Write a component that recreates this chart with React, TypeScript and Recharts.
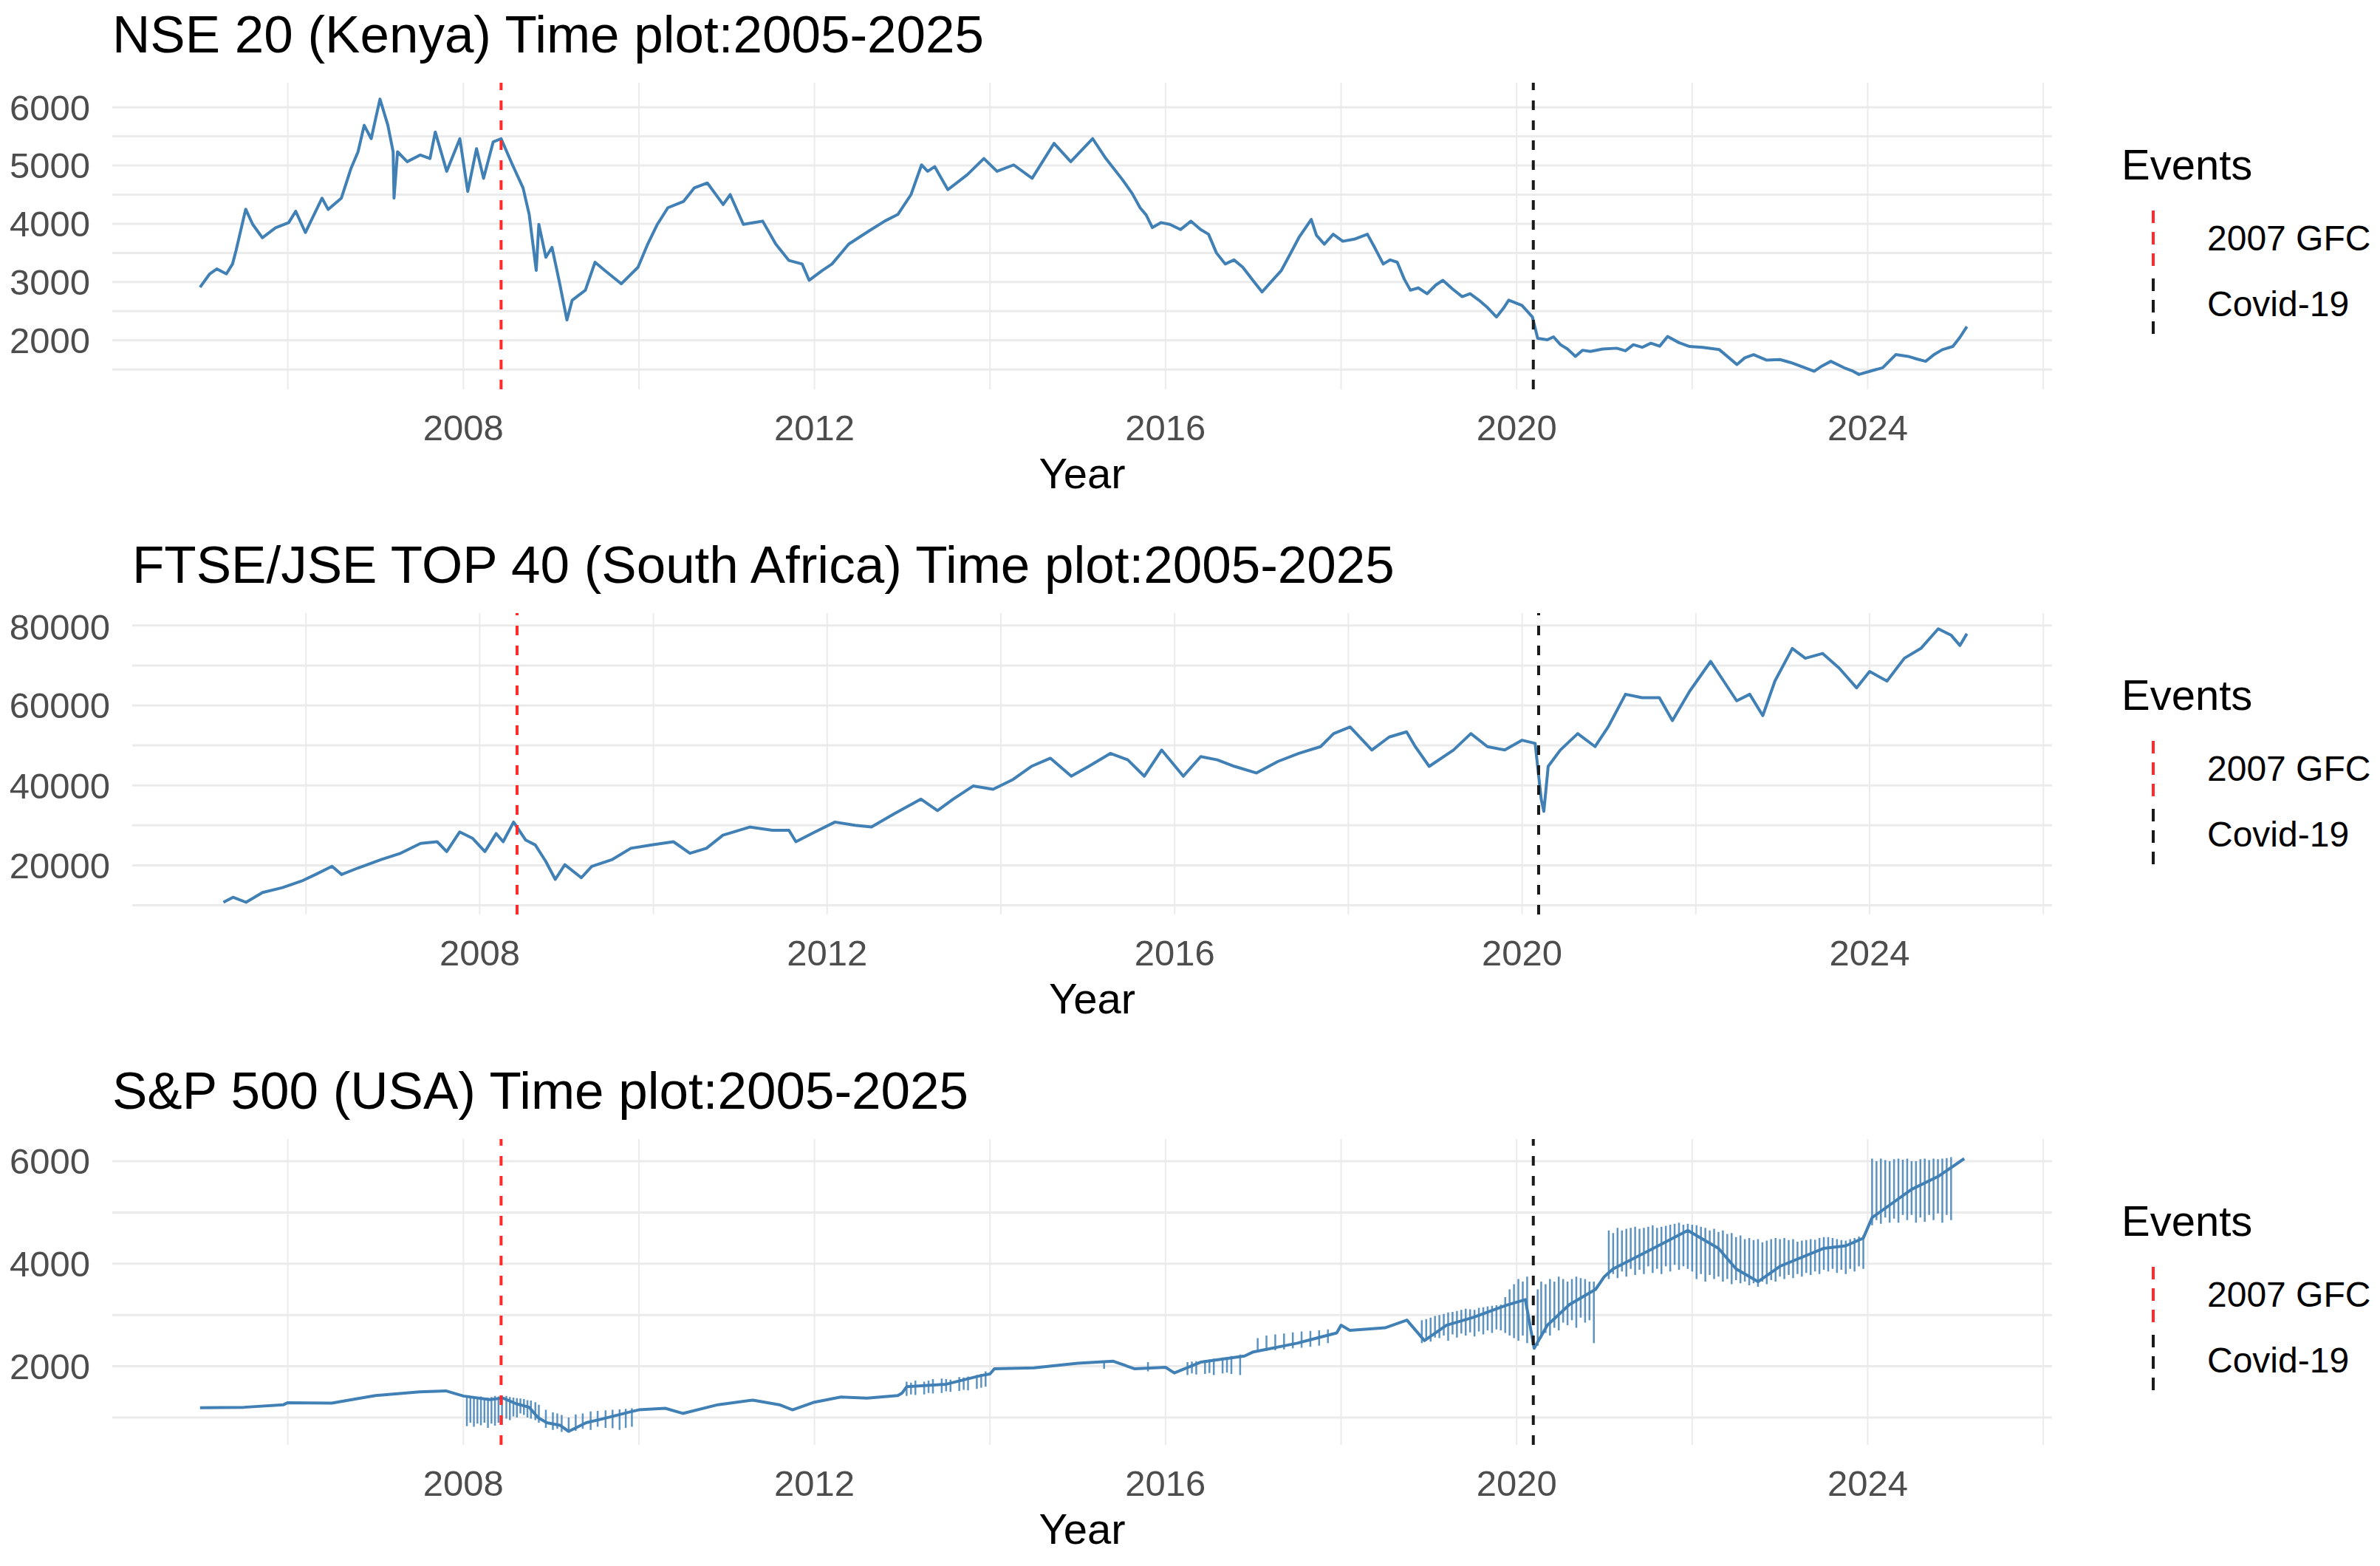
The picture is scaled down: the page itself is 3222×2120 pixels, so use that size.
import { LineChart, Line, XAxis, YAxis, CartesianGrid, ReferenceLine } from "recharts";

const FONT = '"Liberation Sans", Arial, Helvetica, sans-serif';
const BLUE = "#4180B5";
const GRID = "#EBEBEB";
const PLOT_RIGHT = 2778;

// shared time axis
const yearTicks = [2008, 2012, 2016, 2020, 2024];
const yearGrid = [2006, 2008, 2010, 2012, 2014, 2016, 2018, 2020, 2022, 2024, 2026];
const yearLimits = [2004.0, 2026.1];

const events = [
  { name: "2007 GFC", year: 2008.43, color: "#FF2a2a" },
  { name: "Covid-19", year: 2020.19, color: "#1a1a1a" },
];

// NSE 20 (Kenya)
const nse20: [number, number][] = [
  [2005.0, 2910], [2005.11, 3140], [2005.19, 3225], [2005.3, 3140], [2005.37, 3310], [2005.41, 3540],
  [2005.52, 4250], [2005.6, 3990], [2005.71, 3760], [2005.86, 3930], [2006.01, 4020], [2006.09, 4215],
  [2006.2, 3850], [2006.39, 4440], [2006.46, 4245], [2006.61, 4440], [2006.72, 4950], [2006.8, 5235],
  [2006.87, 5690], [2006.95, 5460], [2007.05, 6140], [2007.14, 5690], [2007.2, 5235], [2007.21, 4440],
  [2007.25, 5235], [2007.36, 5065], [2007.51, 5180], [2007.62, 5120], [2007.68, 5575], [2007.81, 4900],
  [2007.96, 5460], [2008.05, 4555], [2008.15, 5290], [2008.23, 4780], [2008.34, 5405], [2008.43, 5460],
  [2008.56, 5010], [2008.68, 4615], [2008.75, 4160], [2008.83, 3200], [2008.86, 3990], [2008.94, 3425],
  [2009.01, 3595], [2009.09, 3030], [2009.18, 2350], [2009.24, 2690], [2009.39, 2860], [2009.5, 3340],
  [2009.61, 3200], [2009.8, 2970], [2009.99, 3255], [2010.1, 3650], [2010.21, 3990], [2010.33, 4275],
  [2010.51, 4385], [2010.63, 4615], [2010.78, 4700], [2010.96, 4330], [2011.04, 4500], [2011.19, 3990],
  [2011.41, 4045], [2011.56, 3650], [2011.71, 3370], [2011.86, 3310], [2011.94, 3030], [2012.09, 3200],
  [2012.2, 3310], [2012.39, 3650], [2012.62, 3875], [2012.8, 4045], [2012.95, 4160], [2013.1, 4500],
  [2013.22, 5010], [2013.29, 4900], [2013.37, 4980], [2013.52, 4585], [2013.74, 4840], [2013.93, 5120],
  [2014.08, 4900], [2014.27, 5010], [2014.48, 4780], [2014.73, 5380], [2014.92, 5065], [2015.17, 5460],
  [2015.32, 5120], [2015.51, 4755], [2015.62, 4520], [2015.71, 4275], [2015.78, 4150], [2015.85, 3935],
  [2015.95, 4020], [2016.05, 3990], [2016.17, 3900], [2016.29, 4045], [2016.4, 3900], [2016.49, 3820],
  [2016.58, 3500], [2016.68, 3310], [2016.78, 3380], [2016.88, 3255], [2017.0, 3020], [2017.1, 2830],
  [2017.2, 3000], [2017.32, 3200], [2017.42, 3480], [2017.52, 3765], [2017.66, 4075], [2017.72, 3800],
  [2017.81, 3650], [2017.91, 3820], [2018.02, 3700], [2018.15, 3735], [2018.3, 3820], [2018.38, 3600],
  [2018.48, 3310], [2018.56, 3380], [2018.64, 3340], [2018.72, 3050], [2018.79, 2860], [2018.88, 2900],
  [2018.98, 2800], [2019.08, 2950], [2019.16, 3030], [2019.27, 2880], [2019.38, 2750], [2019.47, 2800],
  [2019.57, 2690], [2019.67, 2560], [2019.77, 2400], [2019.85, 2550], [2019.91, 2690], [2020.06, 2600],
  [2020.18, 2400], [2020.24, 2035], [2020.35, 2010], [2020.42, 2060], [2020.5, 1925], [2020.58, 1850],
  [2020.67, 1725], [2020.75, 1830], [2020.84, 1810], [2020.98, 1850], [2021.14, 1865], [2021.24, 1820],
  [2021.33, 1925], [2021.43, 1880], [2021.53, 1950], [2021.63, 1900], [2021.72, 2065], [2021.85, 1960],
  [2021.97, 1895], [2022.12, 1880], [2022.31, 1840], [2022.42, 1700], [2022.51, 1585], [2022.6, 1700],
  [2022.7, 1755], [2022.85, 1660], [2023.0, 1670], [2023.12, 1620], [2023.24, 1555], [2023.39, 1470],
  [2023.48, 1560], [2023.58, 1640], [2023.73, 1530], [2023.82, 1480], [2023.9, 1415], [2024.05, 1480],
  [2024.17, 1530], [2024.32, 1755], [2024.46, 1725], [2024.56, 1680], [2024.66, 1640], [2024.76, 1760],
  [2024.85, 1840], [2024.97, 1895], [2025.05, 2050], [2025.13, 2235],
];
const nseTicks = [2000, 3000, 4000, 5000, 6000];
const nseGrid = [1500, 2000, 2500, 3000, 3500, 4000, 4500, 5000, 5500, 6000];
const nseLimits = [1160, 6420];

// FTSE/JSE TOP 40 (South Africa)
const jse40: [number, number][] = [
  [2005.05, 10750], [2005.16, 12000], [2005.31, 10750], [2005.5, 13200], [2005.73, 14430], [2005.95, 16070],
  [2006.11, 17700], [2006.3, 19750], [2006.41, 17700], [2006.6, 19340], [2006.86, 21390], [2007.09, 23030],
  [2007.32, 25500], [2007.51, 25900], [2007.62, 23440], [2007.77, 28360], [2007.92, 26720], [2008.06, 23440],
  [2008.19, 27950], [2008.27, 25900], [2008.39, 30820], [2008.53, 26310], [2008.64, 25100], [2008.76, 21000],
  [2008.87, 16480], [2008.98, 20160], [2009.17, 16890], [2009.29, 19750], [2009.52, 21390], [2009.74, 24260],
  [2009.97, 25080], [2010.23, 25900], [2010.42, 23030], [2010.61, 24260], [2010.8, 27540], [2011.11, 29590],
  [2011.37, 28770], [2011.56, 28770], [2011.64, 25900], [2011.86, 28360], [2012.09, 30820], [2012.32, 30000],
  [2012.51, 29590], [2012.77, 32870], [2013.08, 36560], [2013.27, 33690], [2013.45, 36560], [2013.68, 39840],
  [2013.91, 39020], [2014.14, 41480], [2014.35, 44750], [2014.57, 46800], [2014.81, 42300], [2015.01, 44750],
  [2015.26, 48000], [2015.46, 46400], [2015.65, 42300], [2015.85, 48850], [2016.1, 42300], [2016.3, 47200],
  [2016.49, 46400], [2016.69, 44750], [2016.94, 43100], [2017.19, 46000], [2017.43, 48000], [2017.68, 49700],
  [2017.83, 52950], [2018.02, 54600], [2018.27, 48850], [2018.47, 52100], [2018.67, 53400], [2018.77, 49700],
  [2018.93, 44750], [2019.21, 48850], [2019.41, 52950], [2019.6, 49700], [2019.8, 48850], [2020.0, 51300],
  [2020.15, 50500], [2020.22, 36500], [2020.25, 33500], [2020.3, 44750], [2020.44, 48850], [2020.64, 52950],
  [2020.84, 49700], [2020.99, 54600], [2021.19, 62800], [2021.38, 61950], [2021.58, 61950], [2021.73, 56200],
  [2021.93, 63600], [2022.17, 71000], [2022.32, 66100], [2022.47, 61150], [2022.62, 62800], [2022.77, 57450],
  [2022.91, 66100], [2023.11, 74260], [2023.26, 71800], [2023.46, 73000], [2023.65, 69340], [2023.85, 64400],
  [2024.0, 68500], [2024.2, 66100], [2024.4, 71800], [2024.59, 74260], [2024.79, 79180], [2024.94, 77540],
  [2025.04, 75000], [2025.12, 77950],
];
const jseTicks = [20000, 40000, 60000, 80000];
const jseGrid = [10000, 20000, 30000, 40000, 50000, 60000, 70000, 80000];
const jseLimits = [7700, 83100];

// S&P 500 (USA): trend plus the vertical glitch strokes [year, low, high]
const sp500: [number, number][] = [
  [2005.0, 1190], [2005.5, 1200], [2005.95, 1250], [2006.0, 1290], [2006.5, 1280], [2006.9, 1400],
  [2007.0, 1430], [2007.5, 1500], [2007.8, 1520], [2008.0, 1420], [2008.3, 1350], [2008.45, 1380],
  [2008.6, 1270], [2008.75, 1200], [2008.85, 1000], [2008.95, 900], [2009.1, 850], [2009.2, 730],
  [2009.4, 900], [2009.6, 980], [2009.9, 1110], [2010.0, 1150], [2010.3, 1180], [2010.5, 1080],
  [2010.9, 1250], [2011.3, 1340], [2011.6, 1250], [2011.75, 1150], [2012.0, 1300], [2012.3, 1400],
  [2012.6, 1380], [2012.95, 1430], [2013.0, 1480], [2013.05, 1600], [2013.5, 1650], [2013.9, 1820],
  [2014.0, 1850], [2014.05, 1950], [2014.5, 1970], [2015.0, 2060], [2015.4, 2100], [2015.65, 1950],
  [2016.0, 1980], [2016.1, 1870], [2016.4, 2080], [2016.9, 2200], [2017.0, 2280], [2017.5, 2450],
  [2017.95, 2650], [2018.0, 2800], [2018.1, 2700], [2018.5, 2750], [2018.75, 2900], [2018.95, 2500],
  [2019.2, 2800], [2019.5, 2950], [2019.9, 3200], [2020.1, 3300], [2020.2, 2350], [2020.35, 2800],
  [2020.6, 3200], [2020.9, 3500], [2021.0, 3750], [2021.1, 3900], [2021.5, 4250], [2021.95, 4650],
  [2022.3, 4300], [2022.5, 3900], [2022.75, 3650], [2023.0, 3950], [2023.5, 4300], [2023.75, 4350],
  [2023.95, 4500], [2024.05, 4900], [2024.5, 5450], [2024.8, 5700], [2025.1, 6050],
];
const sp500Spikes: [number, number, number][] = [
  [2008.04, 830, 1420], [2008.08, 900, 1400], [2008.12, 820, 1400], [2008.16, 880, 1390], [2008.2, 850, 1410],
  [2008.24, 900, 1380], [2008.28, 800, 1390], [2008.32, 880, 1400], [2008.36, 840, 1420], [2008.4, 900, 1410],
  [2008.44, 860, 1430], [2008.49, 980, 1420], [2008.53, 950, 1400], [2008.57, 1020, 1390], [2008.61, 1000, 1380],
  [2008.65, 1080, 1370], [2008.69, 1050, 1360], [2008.73, 1000, 1340], [2008.77, 980, 1330], [2008.82, 950, 1300],
  [2008.86, 900, 1250], [2008.94, 800, 1150], [2009.02, 760, 1100], [2009.07, 780, 1080], [2009.12, 720, 1050],
  [2009.2, 750, 1000], [2009.28, 740, 1060], [2009.36, 780, 1080], [2009.45, 760, 1120], [2009.53, 820, 1130],
  [2009.62, 800, 1140], [2009.7, 790, 1150], [2009.78, 760, 1160], [2009.85, 800, 1170], [2009.92, 820, 1180],
  [2013.05, 1420, 1700], [2013.1, 1450, 1680], [2013.15, 1440, 1720], [2013.25, 1450, 1700], [2013.3, 1480, 1720],
  [2013.35, 1470, 1750], [2013.45, 1480, 1760], [2013.5, 1510, 1750], [2013.55, 1500, 1740], [2013.65, 1520, 1790],
  [2013.7, 1540, 1780], [2013.75, 1530, 1800], [2013.85, 1560, 1830], [2013.9, 1580, 1850], [2013.95, 1600, 1900],
  [2015.3, 1950, 2110], [2015.8, 1900, 2080],
  [2016.25, 1830, 2080], [2016.3, 1860, 2090], [2016.35, 1840, 2100], [2016.45, 1850, 2120], [2016.5, 1870, 2130],
  [2016.55, 1830, 2150], [2016.65, 1860, 2170], [2016.7, 1880, 2180], [2016.75, 1850, 2200], [2016.85, 1830, 2230],
  [2017.05, 2280, 2550], [2017.15, 2300, 2600], [2017.25, 2310, 2620], [2017.35, 2330, 2640], [2017.45, 2350, 2660],
  [2017.55, 2360, 2680], [2017.65, 2380, 2690], [2017.75, 2400, 2700], [2017.85, 2450, 2720],
  [2018.92, 2450, 2900], [2018.97, 2520, 2920], [2019.02, 2480, 2950], [2019.07, 2560, 2980], [2019.12, 2550, 3000],
  [2019.17, 2600, 3020], [2019.22, 2500, 3050], [2019.27, 2620, 3060], [2019.32, 2560, 3080], [2019.37, 2640, 3100],
  [2019.42, 2600, 3120], [2019.47, 2660, 3110], [2019.52, 2580, 3100], [2019.57, 2680, 3140], [2019.62, 2620, 3150],
  [2019.67, 2700, 3170], [2019.72, 2650, 3180], [2019.77, 2720, 3190], [2019.82, 2700, 3200], [2019.87, 2650, 3350],
  [2019.92, 2600, 3500], [2019.97, 2550, 3600], [2020.02, 2500, 3700], [2020.07, 2600, 3650], [2020.12, 2450, 3750],
  [2020.24, 2400, 3500], [2020.28, 2550, 3650], [2020.33, 2650, 3600], [2020.38, 2600, 3700], [2020.43, 2750, 3650],
  [2020.48, 2700, 3750], [2020.53, 2850, 3700], [2020.58, 2800, 3650], [2020.63, 2900, 3700], [2020.68, 2750, 3750],
  [2020.73, 2950, 3720], [2020.78, 2850, 3700], [2020.83, 2900, 3650], [2020.88, 2450, 3650],
  [2021.05, 3700, 4650], [2021.1, 3800, 4600], [2021.15, 3720, 4700], [2021.2, 3850, 4650], [2021.25, 3750, 4680],
  [2021.3, 3900, 4700], [2021.35, 3780, 4720], [2021.4, 3880, 4680], [2021.45, 3800, 4700], [2021.5, 3950, 4720],
  [2021.55, 3820, 4750], [2021.6, 3900, 4700], [2021.65, 3800, 4720], [2021.7, 3950, 4740], [2021.75, 3850, 4760],
  [2021.8, 3980, 4780], [2021.85, 3880, 4800], [2021.9, 3950, 4760], [2021.95, 3900, 4780], [2022.0, 3850, 4760],
  [2022.05, 3700, 4750], [2022.1, 3800, 4720], [2022.15, 3650, 4700], [2022.2, 3780, 4650], [2022.25, 3700, 4680],
  [2022.3, 3750, 4620], [2022.35, 3650, 4650], [2022.4, 3700, 4580], [2022.45, 3600, 4600], [2022.5, 3680, 4520],
  [2022.55, 3620, 4550], [2022.6, 3650, 4480], [2022.65, 3580, 4500], [2022.7, 3620, 4460], [2022.75, 3550, 4480],
  [2022.8, 3650, 4420], [2022.85, 3600, 4450], [2022.9, 3680, 4480], [2022.95, 3650, 4500], [2023.0, 3750, 4480],
  [2023.05, 3700, 4500], [2023.1, 3780, 4460], [2023.15, 3720, 4480], [2023.2, 3800, 4430], [2023.25, 3750, 4450],
  [2023.3, 3820, 4460], [2023.35, 3780, 4480], [2023.4, 3850, 4470], [2023.45, 3800, 4500], [2023.5, 3880, 4520],
  [2023.55, 3850, 4520], [2023.6, 3900, 4500], [2023.65, 3820, 4480], [2023.7, 3880, 4460], [2023.75, 3800, 4450],
  [2023.8, 3900, 4480], [2023.85, 3850, 4500], [2023.9, 3950, 4530], [2023.95, 3900, 4550],
  [2024.05, 4750, 6050], [2024.1, 4850, 6000], [2024.15, 4780, 6050], [2024.2, 4900, 6020], [2024.25, 4800, 6000],
  [2024.3, 4880, 6040], [2024.35, 4800, 6050], [2024.4, 4950, 6030], [2024.45, 4850, 6050], [2024.5, 4950, 6000],
  [2024.55, 4800, 6000], [2024.6, 4900, 6040], [2024.65, 4820, 6050], [2024.7, 4950, 6020], [2024.75, 4850, 6050],
  [2024.8, 4980, 6040], [2024.85, 4800, 6050], [2024.9, 4950, 6060], [2024.95, 4850, 6080],
];
const spTicks = [2000, 4000, 6000];
const spGrid = [1000, 2000, 3000, 4000, 5000, 6000];
const spLimits = [467, 6432];

type Point = { year: number; value: number | null };

const toPoints = (rows: [number, number][]): Point[] => rows.map(([year, value]) => ({ year, value }));

// each stroke becomes two points at the same year, then a gap
const toStrokes = (rows: [number, number, number][]): Point[] =>
  rows.flatMap(([year, lo, hi]) => [
    { year, value: lo },
    { year, value: hi },
    { year, value: null },
  ]);

interface PanelProps {
  title: string;
  series: Point[];
  strokes?: Point[];
  yTicks: number[];
  yGrid: number[];
  yLimits: number[];
  plotTop: number;
  plotBottom: number;
  plotLeft: number;
}

const tickStyle = { fontSize: 49, fill: "#4D4D4D", fontFamily: FONT };

function Legend({ plotTop }: { plotTop: number }) {
  return (
    <>
      <div
        style={{
          position: "absolute",
          left: 2872,
          top: plotTop + 82,
          fontSize: 58,
          lineHeight: "58px",
          color: "#000",
          whiteSpace: "nowrap",
        }}
      >
        Events
      </div>
      <svg
        style={{ position: "absolute", left: 2905, top: plotTop + 170 }}
        width={20}
        height={180}
      >
        <line x1={10} x2={10} y1={3} y2={81} stroke={events[0].color} strokeWidth={4} strokeDasharray="17 12" />
        <line x1={10} x2={10} y1={95} y2={171} stroke={events[1].color} strokeWidth={4} strokeDasharray="17 12" />
      </svg>
      {events.map((e, i) => (
        <div
          key={e.name}
          style={{
            position: "absolute",
            left: 2988,
            top: plotTop + (i === 0 ? 187 : 276),
            fontSize: 48,
            lineHeight: "48px",
            color: "#000",
            whiteSpace: "nowrap",
          }}
        >
          {e.name}
        </div>
      ))}
    </>
  );
}

function Panel({ title, series, strokes, yTicks, yGrid, yLimits, plotTop, plotBottom, plotLeft }: PanelProps) {
  const plotH = plotBottom - plotTop;
  const pad = 10;
  const xAxisH = 100;
  return (
    <>
      <div
        style={{
          position: "absolute",
          left: plotLeft,
          top: plotTop - 101,
          fontSize: 71,
          lineHeight: "71px",
          color: "#000",
          whiteSpace: "nowrap",
        }}
      >
        {title}
      </div>
      <div style={{ position: "absolute", left: 0, top: plotTop - pad }}>
        <LineChart
          width={PLOT_RIGHT + pad}
          height={plotH + pad + xAxisH}
          margin={{ top: pad, right: pad, bottom: 0, left: 0 }}
        >
          <CartesianGrid stroke={GRID} strokeWidth={3} vertical={false} horizontalValues={yGrid} />
          <CartesianGrid stroke={GRID} strokeWidth={2} horizontal={false} verticalValues={yearGrid} />
          <XAxis
            dataKey="year"
            type="number"
            domain={yearLimits}
            ticks={yearTicks}
            allowDataOverflow
            axisLine={false}
            tickLine={false}
            tickSize={0}
            tickMargin={34}
            height={xAxisH}
            tick={tickStyle}
          />
          <YAxis
            type="number"
            domain={yLimits}
            ticks={yTicks}
            allowDataOverflow
            axisLine={false}
            tickLine={false}
            tickSize={0}
            tickMargin={30}
            width={plotLeft}
            tick={tickStyle}
          />
          {strokes && (
            <Line
              data={strokes}
              dataKey="value"
              type="linear"
              stroke={BLUE}
              strokeWidth={2.5}
              strokeOpacity={0.85}
              dot={false}
              activeDot={false}
              connectNulls={false}
              isAnimationActive={false}
            />
          )}
          <Line
            data={series}
            dataKey="value"
            type="linear"
            stroke={BLUE}
            strokeWidth={4}
            strokeLinejoin="round"
            dot={false}
            activeDot={false}
            isAnimationActive={false}
          />
          {events.map((e) => (
            <ReferenceLine
              key={e.name}
              x={e.year}
              stroke={e.color}
              strokeWidth={4}
              strokeDasharray="13 14"
            />
          ))}
        </LineChart>
      </div>
      <div
        style={{
          position: "absolute",
          left: plotLeft,
          width: PLOT_RIGHT - plotLeft,
          top: plotBottom + 85,
          textAlign: "center",
          fontSize: 58,
          lineHeight: "58px",
          color: "#000",
        }}
      >
        Year
      </div>
      <Legend plotTop={plotTop} />
    </>
  );
}

export default function App() {
  return (
    <div
      style={{
        position: "relative",
        width: 3222,
        height: 2120,
        background: "#fff",
        fontFamily: FONT,
        overflow: "hidden",
      }}
    >
      <style>{"body{margin:0}"}</style>
      <Panel
        title="NSE 20 (Kenya) Time plot:2005-2025"
        series={toPoints(nse20)}
        yTicks={nseTicks}
        yGrid={nseGrid}
        yLimits={nseLimits}
        plotTop={112}
        plotBottom={527}
        plotLeft={152}
      />
      <Panel
        title="FTSE/JSE TOP 40 (South Africa) Time plot:2005-2025"
        series={toPoints(jse40)}
        yTicks={jseTicks}
        yGrid={jseGrid}
        yLimits={jseLimits}
        plotTop={830}
        plotBottom={1238}
        plotLeft={179}
      />
      <Panel
        title="S&P 500 (USA) Time plot:2005-2025"
        series={toPoints(sp500)}
        strokes={toStrokes(sp500Spikes)}
        yTicks={spTicks}
        yGrid={spGrid}
        yLimits={spLimits}
        plotTop={1542}
        plotBottom={1956}
        plotLeft={152}
      />
    </div>
  );
}
